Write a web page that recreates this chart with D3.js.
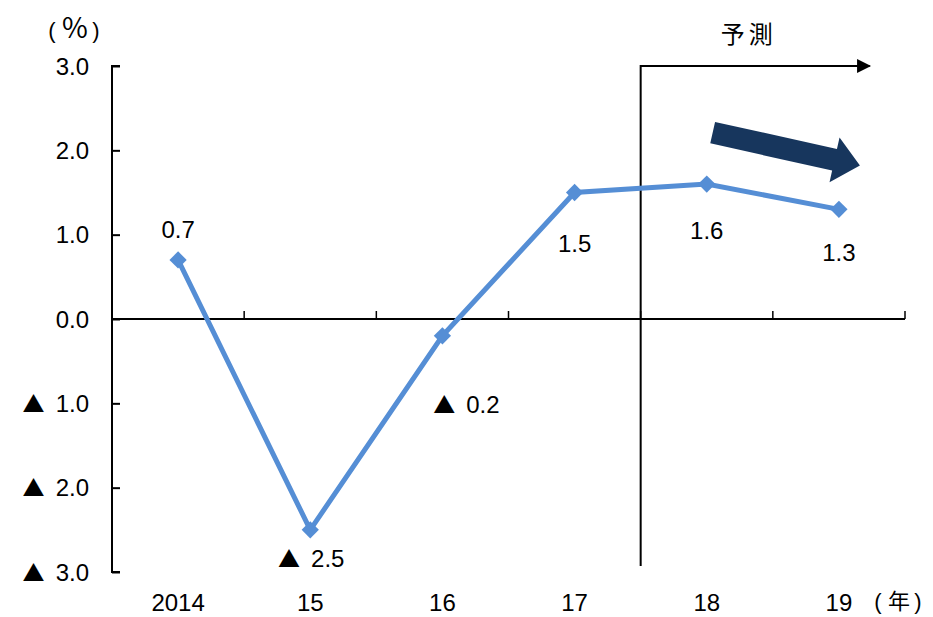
<!DOCTYPE html>
<html>
<head>
<meta charset="utf-8">
<script src="https://cdn.jsdelivr.net/npm/d3@7"></script>
<style>
  body { margin: 0; background: #fff; }
  text { font-family: "Liberation Sans", Arial, sans-serif; fill: #000; }
  .cjk { font-family: "Noto Sans CJK JP", sans-serif; }
</style>
</head>
<body>
<div id="chart"></div>
<script>
const years = ["2014", "15", "16", "17", "18", "19"];
const values = [0.7, -2.5, -0.2, 1.5, 1.6, 1.3];
const yTicks = [3, 2, 1, 0, -1, -2, -3];
const forecastFrom = "18";

const margin = { top: 66, right: 28, bottom: 48, left: 112 };
const width = 933 - margin.left - margin.right;
const height = 617 - margin.top - margin.bottom;

const x = d3.scaleBand().domain(years).range([0, width]);
const y = d3.scaleLinear().domain([-3, 3]).range([height + 3, 0]);

const svg = d3.select("#chart")
  .append("svg")
  .attr("width", 933)
  .attr("height", 617);

svg.append("defs").append("marker")
  .attr("id", "head")
  .attr("viewBox", "0 0 10 10")
  .attr("refX", 9)
  .attr("refY", 5)
  .attr("markerWidth", 16)
  .attr("markerHeight", 14)
  .attr("markerUnits", "userSpaceOnUse")
  .attr("orient", "auto")
  .append("path")
  .attr("d", "M0,0L10,5L0,10Z")
  .attr("fill", "#000");

const g = svg.append("g")
  .attr("transform", `translate(${margin.left},${margin.top})`);

// writes "▲ 1.0" style labels, negative numbers get a triangle
function numLabel(sel, size) {
  sel.each(function (v) {
    const t = d3.select(this);
    if (v < 0) {
      t.append("tspan").attr("class", "cjk").attr("font-size", size - 2).text("▲");
      t.append("tspan").attr("dx", 11).text(Math.abs(v).toFixed(1));
    } else {
      t.append("tspan").text(v.toFixed(1));
    }
  });
}

// unit label with spaced-out brackets: "( % )"
function unitLabel(parent, xs, yPos, inner, innerSize) {
  const t = parent.append("text")
    .attr("y", yPos)
    .attr("text-anchor", "middle")
    .attr("font-size", 22);
  t.append("tspan").attr("x", xs[0]).text("(");
  t.append("tspan").attr("x", xs[1]).attr("class", "cjk")
    .attr("font-size", innerSize).text(inner);
  t.append("tspan").attr("x", xs[2]).text(")");
}

// y axis, ticks pointing inward
const yAxis = g.append("g")
  .call(d3.axisRight(y).tickValues(yTicks).tickSize(8).tickFormat(""))
  .call((g) => g.select(".domain").attr("d", `M8,${y(3)}H0V${y(-3)}H8`));
yAxis.selectAll("line,path").attr("stroke", "#000").attr("stroke-width", 2);

g.selectAll(".ylab")
  .data(yTicks)
  .join("text")
  .attr("class", "ylab")
  .attr("x", -23)
  .attr("y", (d) => y(d))
  .attr("dy", "0.36em")
  .attr("text-anchor", "end")
  .attr("font-size", 24)
  .call(numLabel, 24);

unitLabel(svg, [52, 75, 96], 38, "%", 28);

// zero line with upward ticks at category boundaries
const xAxis = g.append("g")
  .attr("transform", `translate(0,${y(0)})`);
xAxis.append("line")
  .attr("x1", 0).attr("x2", width)
  .attr("stroke", "#000").attr("stroke-width", 2);
xAxis.selectAll(".xt")
  .data(years.slice(1).concat(["end"]))
  .join("line")
  .attr("class", "xt")
  .attr("x1", (d) => d === "end" ? width : x(d))
  .attr("x2", (d) => d === "end" ? width : x(d))
  .attr("y1", 0).attr("y2", -8)
  .attr("stroke", "#000").attr("stroke-width", 1.5);

g.selectAll(".xlab")
  .data(years)
  .join("text")
  .attr("class", "xlab")
  .attr("x", (d) => x(d) + x.bandwidth() / 2)
  .attr("y", height + 42)
  .attr("text-anchor", "middle")
  .attr("font-size", 24)
  .text((d) => d);

unitLabel(svg, [878, 899, 918], 609, "年", 22);

// forecast bracket
const fx = x(forecastFrom);
g.append("path")
  .attr("d", `M${fx},${y(-3) - 6}V${y(3)}H${fx + 229}`)
  .attr("fill", "none")
  .attr("stroke", "#000")
  .attr("stroke-width", 2)
  .attr("marker-end", "url(#head)");
g.append("text")
  .attr("class", "cjk")
  .attr("x", fx + 108)
  .attr("y", -23)
  .attr("text-anchor", "middle")
  .attr("font-size", 24)
  .attr("letter-spacing", 4)
  .text("予測");

// trend arrow
const a0 = [x("18") + 72, y(2.21)];
const a1 = [x("19") + x.bandwidth() / 2 + 21, y(1.82)];
const ang = Math.atan2(a1[1] - a0[1], a1[0] - a0[0]);
const len = Math.hypot(a1[0] - a0[0], a1[1] - a0[1]);
const shaft = 11, headW = 23, headL = 26;
g.append("path")
  .attr("transform", `translate(${a0[0]},${a0[1]}) rotate(${ang * 180 / Math.PI})`)
  .attr("d", `M0,${-shaft}H${len - headL}V${-headW}L${len},0L${len - headL},${headW}V${shaft}H0Z`)
  .attr("fill", "#17365d");

// line
const line = d3.line()
  .x((d, i) => x(years[i]) + x.bandwidth() / 2)
  .y((d) => y(d));
g.append("path")
  .datum(values)
  .attr("d", line)
  .attr("fill", "none")
  .attr("stroke", "#558ed5")
  .attr("stroke-width", 5);

g.selectAll(".pt")
  .data(values)
  .join("path")
  .attr("class", "pt")
  .attr("transform", (d, i) => `translate(${x(years[i]) + x.bandwidth() / 2},${y(d)})`)
  .attr("d", d3.symbol(d3.symbolDiamond2, 190))
  .attr("fill", "#558ed5");

// data labels
const labelOffset = [[0, -31], [1, 29], [24, 68], [0, 51], [0, 46], [0, 43]];
g.selectAll(".dlab")
  .data(values)
  .join("text")
  .attr("class", "dlab")
  .attr("x", (d, i) => x(years[i]) + x.bandwidth() / 2 + labelOffset[i][0])
  .attr("y", (d, i) => y(d) + labelOffset[i][1])
  .attr("dy", "0.36em")
  .attr("text-anchor", "middle")
  .attr("font-size", 24)
  .call(numLabel, 24);
</script>
</body>
</html>
